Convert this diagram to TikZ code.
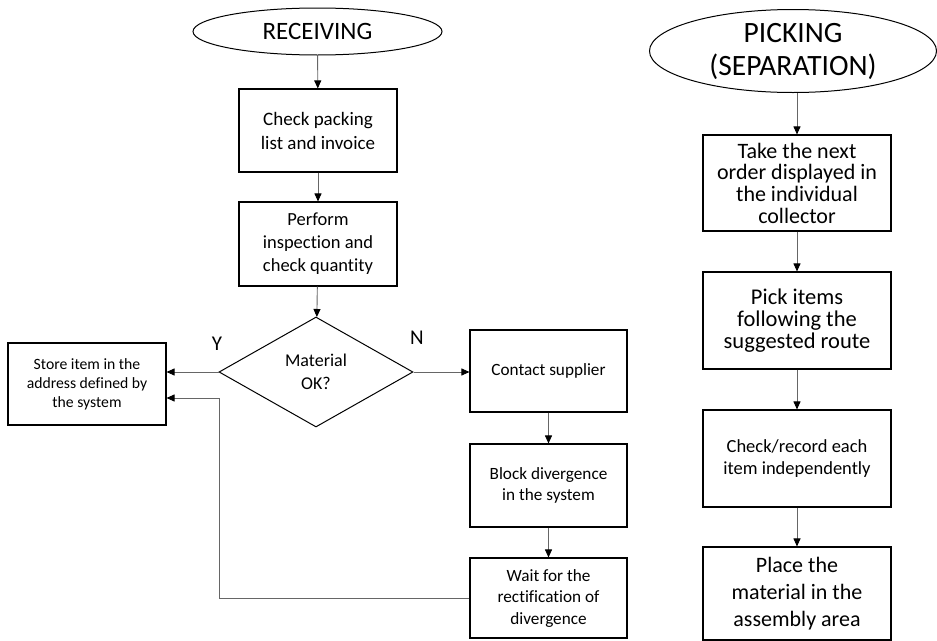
\documentclass[tikz,border=0pt]{standalone}
\usepackage{fontspec}
\setmainfont{Carlito}[Ligatures=NoCommon]
\usetikzlibrary{shapes.geometric,arrows.meta}
\begin{document}
\begin{tikzpicture}[x=1pt,y=-1pt,
  box/.style={draw=black,line width=1.1pt,rectangle,inner sep=0pt,align=center},
  oval/.style={draw=black,line width=1pt,ellipse,inner sep=0pt,align=center},
  conn/.style={draw=black!60,line width=0.9pt,-{Triangle[length=8pt,width=7pt,color=black]}},
  lbl/.style={font=\fontsize{21}{24}\selectfont}]
\useasboundingbox (0,0) rectangle (937,640);
% left column
\node[oval,minimum width=249pt,minimum height=47pt,font=\fontsize{25}{28}\selectfont] (rec) at (317.5,31.5) {RECEIVING};
\node[box,minimum width=158pt,minimum height=83pt,font=\fontsize{19}{24}\selectfont] (b1) at (318,130.5) {Check packing\\list and invoice};
\node[box,minimum width=158pt,minimum height=84pt,font=\fontsize{18.5}{23}\selectfont] (b2) at (318,244) {Perform\\inspection and\\check quantity};
\node[draw=black,line width=1pt,diamond,inner sep=0pt,minimum width=194pt,minimum height=110pt,align=center,font=\fontsize{18}{22.5}\selectfont] (dm) at (316,372) {Material\\OK?};
\node[box,minimum width=158pt,minimum height=82pt,font=\fontsize{15.7}{19}\selectfont] (st) at (87,384) {Store item in the\\address defined by\\the system};
\node[box,minimum width=157pt,minimum height=82pt,font=\fontsize{17.2}{21.7}\selectfont] (ct) at (548.5,371) {Contact supplier};
\node[box,minimum width=157pt,minimum height=83pt,font=\fontsize{17.2}{21.7}\selectfont] (bl) at (548.5,485.5) {Block divergence\\in the system};
\node[box,minimum width=157pt,minimum height=80pt,font=\fontsize{17.2}{21.5}\selectfont] (wt) at (548.5,598) {Wait for the\\rectification of\\divergence};
\node[lbl] (ylab) at (217,344) {Y};
\node[lbl] (nlab) at (417,338) {N};
% right column
\node[oval,minimum width=287pt,minimum height=83pt,font=\fontsize{29.5}{33}\selectfont] (pk) at (793,51) {PICKING\\(SEPARATION)};
\node[box,minimum width=188pt,minimum height=96pt,font=\fontsize{22}{21.7}\selectfont] (tk) at (797,183) {Take the next\\order displayed in\\the individual\\collector};
\node[box,minimum width=188pt,minimum height=97pt,font=\fontsize{22.5}{22}\selectfont] (pi) at (797,320.5) {Pick items\\following the\\suggested route};
\node[box,minimum width=188pt,minimum height=97pt,font=\fontsize{18.5}{22.7}\selectfont] (ck) at (797,458.5) {Check/record each\\item independently};
\node[box,minimum width=188pt,minimum height=93pt,font=\fontsize{22}{26.7}\selectfont] (pl) at (797,593.5) {Place the\\material in the\\assembly area};
% connectors
\draw[conn] (rec) -- (b1);
\draw[conn] (b1) -- (b2);
\draw[conn] (b2) -- (dm);
\draw[conn] (dm.west) -- (dm.west -| st.east);
\draw[conn] (dm.east) -- (dm.east -| ct.west);
\draw[conn] (ct) -- (bl);
\draw[conn] (bl) -- (wt);
\coordinate (c1) at (219,598);
\coordinate (c2) at (219,398);
\draw[conn] (wt.west) -- (c1) -- (c2) -- (c2 -| st.east);
\draw[conn] (pk.south -| tk.north) -- (tk);
\draw[conn] (tk) -- (pi);
\draw[conn] (pi) -- (ck);
\draw[conn] (ck) -- (pl);
\end{tikzpicture}
\end{document}
